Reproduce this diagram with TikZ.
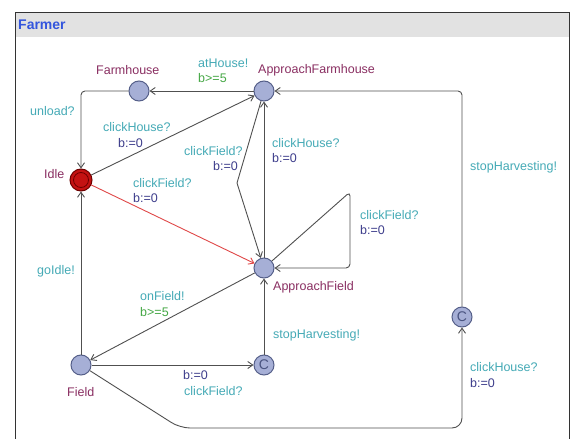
\documentclass[tikz,border=0pt]{standalone}
\usepackage{fontspec}
\setmainfont{Liberation Sans}
\usetikzlibrary{arrows.meta}

\definecolor{edgegray}{HTML}{505050}
\definecolor{locfill}{HTML}{A6AFD6}
\definecolor{locborder}{HTML}{56608A}
\definecolor{initfill}{HTML}{C41212}
\definecolor{initborder}{HTML}{6E0000}
\definecolor{redge}{HTML}{E04848}
\definecolor{synccol}{HTML}{45AAB6}
\definecolor{updcol}{HTML}{3E3E8C}
\definecolor{grdcol}{HTML}{46A846}
\definecolor{namecol}{HTML}{8A2F62}
\definecolor{titlegray}{HTML}{E2E2E2}
\definecolor{titleblue}{HTML}{3355DD}
\definecolor{ccol}{HTML}{4A5480}

\begin{document}
\begin{tikzpicture}[x=1pt,y=-1pt,
  loc/.style={circle,draw=locborder,fill=locfill,line width=1pt,
    minimum size=20pt,inner sep=0pt,text=ccol,
    font=\fontsize{14}{16}\selectfont},
  initloc/.style={circle,draw=initborder,fill=initfill,line width=1pt,
    minimum size=22pt,inner sep=0pt},
  trans/.style={draw=edgegray,line width=0.9pt,
    -{Straight Barb[length=5pt,width=7pt]}},
  lbl/.style={inner sep=0pt,anchor=west,font=\fontsize{12.5}{14}\selectfont},
  sync/.style={lbl,text=synccol},
  upd/.style={lbl,text=updcol},
  grd/.style={lbl,text=grdcol},
  lname/.style={lbl,text=namecol}]

\useasboundingbox (0,0) rectangle (571,439);
\fill[white] (0,0) rectangle (571,439);

% template frame with title bar
\fill[titlegray] (15,12) rectangle (569,37);
\draw[black!80,line width=1pt] (15,439) -- (15,12) -- (569,12) -- (569,439);
\node[anchor=west,inner sep=0pt,text=titleblue,
  font=\bfseries\fontsize{14}{16}\selectfont] (title) at (18,25) {Farmer};

% locations
\node[loc] (farmhouse) at (139,91) {};
\node[loc] (apfarm) at (264,91) {};
\node[initloc] (idle) at (81,180) {};
\draw[initborder,line width=0.8pt] (idle.center) circle (7.5pt);
\node[loc] (apfield) at (264,268) {};
\node[loc] (field) at (81,365) {};
\node[loc] (cmid) at (264,365) {C};
\node[loc] (cright) at (462,317) {C};

% location names
\node[lname] (nfarmhouse) at (96,70) {Farmhouse};
\node[lname] (napfarm) at (258,70) {ApproachFarmhouse};
\node[lname] (nidle) at (44,174) {Idle};
\node[lname] (napfield) at (273,287) {ApproachField};
\node[lname] (nfield) at (67,392) {Field};

% transitions
\draw[trans] (apfarm) -- (farmhouse);
\draw[trans,rounded corners=4pt] (farmhouse.west) -| (idle);
\draw[trans] (idle) -- (apfarm);
\draw[trans,draw=redge] (idle) -- (apfield);
\draw[trans] (apfarm) -- (237,183) -- (apfield);
\draw[trans] (apfield) -- (apfarm);
\draw[trans,rounded corners=4pt] (apfield) -- (350,192) -- (350,268) -- (apfield.east);
\draw[trans] (apfield) -- (field);
\draw[trans] (field) -- (idle);
\draw[trans] (field) -- (cmid);
\draw[trans] (cmid) -- (apfield);
\draw[trans,rounded corners=10pt] (field) -- (180,428) -| (cright);
\draw[trans,rounded corners=4pt] (cright) |- (apfarm);

% transition labels
\node[sync] (s1) at (198,63) {atHouse!};
\node[grd] (g1) at (198,78) {b>=5};
\node[sync] (s2) at (30,111) {unload?};
\node[sync] (s3) at (103,127) {clickHouse?};
\node[upd] (u3) at (118,143) {b:=0};
\node[sync] (s4) at (184,151) {clickField?};
\node[upd] (u4) at (213,166) {b:=0};
\node[sync] (s5) at (272,143) {clickHouse?};
\node[upd] (u5) at (272,158) {b:=0};
\node[sync] (s6) at (133,183) {clickField?};
\node[upd] (u6) at (133,198) {b:=0};
\node[sync] (s7) at (360,215) {clickField?};
\node[upd] (u7) at (360,230) {b:=0};
\node[sync] (s8) at (470,167) {stopHarvesting!};
\node[sync] (s9) at (37,271) {goIdle!};
\node[sync] (s10) at (140,296) {onField!};
\node[grd] (g10) at (140,312) {b>=5};
\node[sync] (s11) at (273,335) {stopHarvesting!};
\node[upd] (u12) at (183,375) {b:=0};
\node[sync] (s12) at (184,391) {clickField?};
\node[sync] (s13) at (470,367) {clickHouse?};
\node[upd] (u13) at (470,383) {b:=0};

\end{tikzpicture}
\end{document}
